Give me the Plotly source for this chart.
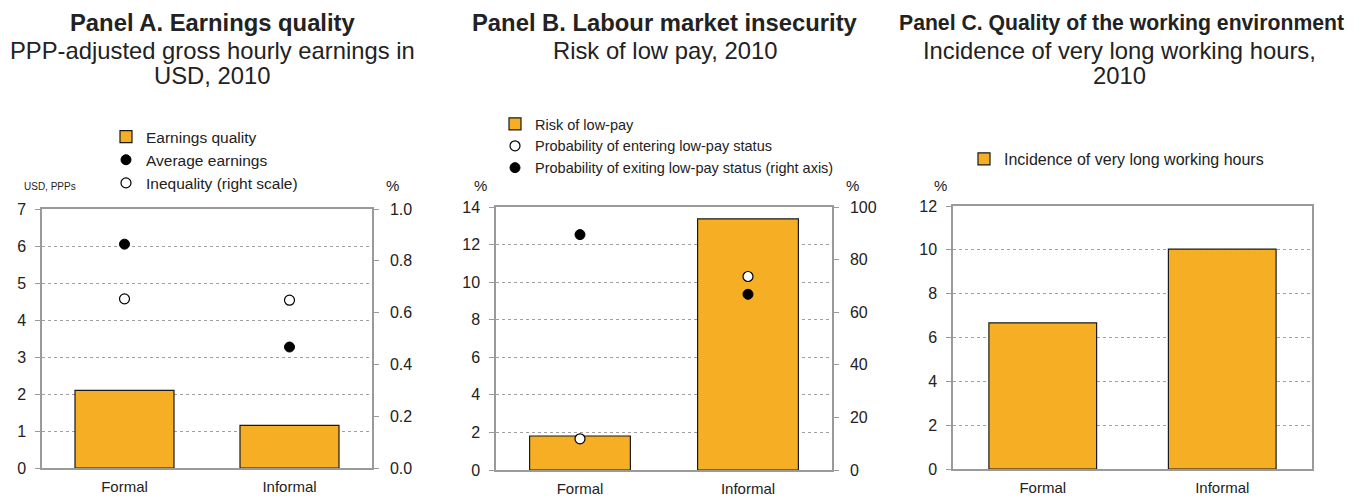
import plotly.graph_objects as go

W, H = 1363, 497

categories = ["Formal", "Informal"]

# Panel A
earnings_quality = [2.1, 1.15]
average_earnings = [6.05, 3.27]
inequality = [0.653, 0.648]

# Panel B
risk_low_pay = [1.81, 13.37]
prob_entering = [1.66, 10.3]
prob_exiting = [89.5, 66.8]

# Panel C
long_hours = [6.67, 10.03]

left_ticks_A = [0, 1, 2, 3, 4, 5, 6, 7]
right_ticks_A = [0.0, 0.2, 0.4, 0.6, 0.8, 1.0]
left_ticks_B = [0, 2, 4, 6, 8, 10, 12, 14]
right_ticks_B = [0, 20, 40, 60, 80, 100]
left_ticks_C = [0, 2, 4, 6, 8, 10, 12]

BAR = "#F6AE25"
EDGE = "#1a1a1a"
AX = "#9a9a9a"
GRID = "#a0a0a0"
TXT = "#222222"
FONT = "Liberation Sans, Arial, sans-serif"


def fx(px):
    return px / W


def fy(py):
    return 1 - py / H


def px_x(a, b):
    return [fx(a), fx(b)]


def px_y(top, bottom):
    return [fy(bottom), fy(top)]


fig = go.Figure()

# Panel A
fig.add_trace(go.Bar(x=categories, y=earnings_quality, name="Earnings quality",
                     marker=dict(color=BAR, line=dict(color=EDGE, width=1.2)),
                     width=0.6, xaxis="x", yaxis="y", legend="legend"))
fig.add_trace(go.Scatter(x=categories, y=average_earnings, name="Average earnings", mode="markers",
                         marker=dict(color="black", size=10, line=dict(color="black", width=1)),
                         xaxis="x", yaxis="y", legend="legend"))
fig.add_trace(go.Scatter(x=categories, y=inequality, name="Inequality (right scale)", mode="markers",
                         marker=dict(color="white", size=10, line=dict(color="black", width=1.2)),
                         xaxis="x", yaxis="y4", legend="legend"))

# Panel B
fig.add_trace(go.Bar(x=categories, y=risk_low_pay, name="Risk of low-pay",
                     marker=dict(color=BAR, line=dict(color=EDGE, width=1.2)),
                     width=0.6, xaxis="x2", yaxis="y2", legend="legend2"))
fig.add_trace(go.Scatter(x=categories, y=prob_entering, name="Probability of entering low-pay status",
                         mode="markers",
                         marker=dict(color="white", size=10, line=dict(color="black", width=1.2)),
                         xaxis="x2", yaxis="y2", legend="legend2"))
fig.add_trace(go.Scatter(x=categories, y=prob_exiting, name="Probability of exiting low-pay status (right axis)",
                         mode="markers",
                         marker=dict(color="black", size=10, line=dict(color="black", width=1)),
                         xaxis="x2", yaxis="y5", legend="legend2"))

# Panel C
fig.add_trace(go.Bar(x=categories, y=long_hours, name="Incidence of very long working hours",
                     marker=dict(color=BAR, line=dict(color=EDGE, width=1.2)),
                     width=0.6, xaxis="x3", yaxis="y3", legend="legend3"))

tickfont = dict(family=FONT, size=16, color=TXT)


def xax(dom, anchor):
    return dict(domain=dom, anchor=anchor, type="category", range=[-0.5, 1.5],
                showline=True, linecolor=AX, linewidth=1.5, mirror=True,
                ticks="", showgrid=False, tickfont=dict(family=FONT, size=15, color=TXT),
                automargin=False, ticklabelstandoff=4, fixedrange=True)


def yax_left(dom, anchor, rng, vals, mirror=False):
    return dict(domain=dom, anchor=anchor, range=rng, tickvals=vals,
                showline=True, linecolor=AX, linewidth=1.5, mirror=mirror,
                ticks="outside", ticklen=5, tickcolor=AX, tickwidth=1,
                showgrid=True, gridcolor=GRID, griddash="dot", gridwidth=1,
                zeroline=False, tickfont=tickfont, automargin=False,
                ticklabelstandoff=6, fixedrange=True)


def yax_right(over, anchor, rng, vals, fmt):
    return dict(overlaying=over, anchor=anchor, side="right", range=rng, tickvals=vals,
                tickformat=fmt, showline=True, linecolor=AX, linewidth=1.5,
                ticks="outside", ticklen=5, tickcolor=AX, tickwidth=1,
                showgrid=False, zeroline=False, tickfont=tickfont, automargin=False,
                ticklabelstandoff=8, fixedrange=True)


domA_x, domA_y = px_x(42, 372), px_y(209, 468)
domB_x, domB_y = px_x(496, 832), px_y(207, 470)
domC_x, domC_y = px_x(953, 1312), px_y(206, 469)

fig.update_layout(
    width=W, height=H,
    margin=dict(l=0, r=0, t=0, b=0),
    paper_bgcolor="white", plot_bgcolor="white",
    font=dict(family=FONT, color=TXT),
    showlegend=True,
    xaxis=xax(domA_x, "y"),
    yaxis=yax_left(domA_y, "x", [0, 7], left_ticks_A),
    yaxis4=yax_right("y", "x", [0, 1], right_ticks_A, ".1f"),
    xaxis2=xax(domB_x, "y2"),
    yaxis2=yax_left(domB_y, "x2", [0, 14], left_ticks_B),
    yaxis5=yax_right("y2", "x2", [0, 100], right_ticks_B, "d"),
    xaxis3=xax(domC_x, "y3"),
    yaxis3=yax_left(domC_y, "x3", [0, 12], left_ticks_C, mirror=True),
    legend=dict(x=fx(106), y=fy(120), xanchor="left", yanchor="top",
                font=dict(family=FONT, size=15.5, color=TXT), bgcolor="rgba(0,0,0,0)",
                traceorder="normal", itemclick=False, itemdoubleclick=False),
    legend2=dict(x=fx(495), y=fy(108), xanchor="left", yanchor="top",
                 font=dict(family=FONT, size=14.5, color=TXT), bgcolor="rgba(0,0,0,0)",
                 traceorder="normal", itemclick=False, itemdoubleclick=False),
    legend3=dict(x=fx(964), y=fy(142), xanchor="left", yanchor="top",
                 font=dict(family=FONT, size=16, color=TXT), bgcolor="rgba(0,0,0,0)",
                 itemclick=False, itemdoubleclick=False),
)

ann = []


def add_text(x, y, text, size, bold=False):
    t = f"<b>{text}</b>" if bold else text
    ann.append(dict(x=fx(x), y=fy(y), xref="paper", yref="paper", text=t, showarrow=False,
                    xanchor="center", yanchor="middle", font=dict(family=FONT, size=size, color=TXT)))


# Titles
add_text(213, 23, "Panel A. Earnings quality", 23.8, bold=True)
add_text(212, 50, "PPP-adjusted gross hourly earnings in", 23.8)
add_text(212, 75, "USD, 2010", 23.8)
add_text(665, 23, "Panel B. Labour market insecurity", 23.8, bold=True)
add_text(665, 50, "Risk of low pay, 2010", 23.8)
add_text(1121, 23, "Panel C. Quality of the working environment", 21.2, bold=True)
add_text(1119, 50, "Incidence of very long working hours,", 23.8)
add_text(1119, 75, "2010", 23.8)

# Unit labels
add_text(50, 186, "USD, PPPs", 10)
add_text(392, 185, "%", 15)
add_text(480, 185, "%", 15)
add_text(852, 185, "%", 15)
add_text(940, 185, "%", 15)

fig.update_layout(annotations=ann)

# remove the default 8px page margin so the figure fills the 1363x497 window exactly
fig.write_html("out.html", config={"displayModeBar": False},
               post_script="document.body.style.margin='0';")
